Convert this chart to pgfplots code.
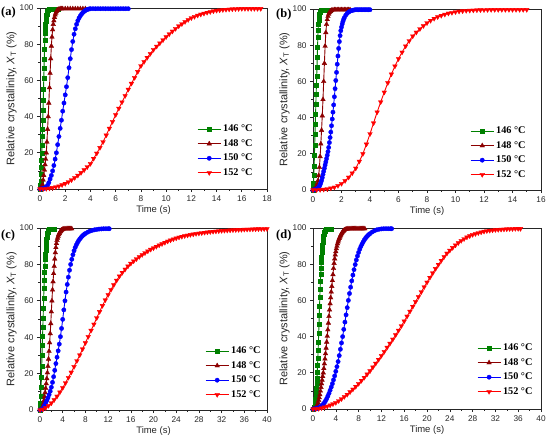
\documentclass[border=0pt]{standalone}
\usepackage{fontspec}
\setmainfont{Liberation Sans}
\newfontfamily\serifb{Liberation Serif}
\usepackage{pgfplots}
\pgfplotsset{compat=1.18}
\definecolor{cgreen}{RGB}{0,128,0}
\definecolor{cdred}{RGB}{140,0,0}
\definecolor{cblue}{RGB}{0,0,255}
\definecolor{cred}{RGB}{255,0,0}
\pgfplotsset{
  panel/.style={
    scale only axis, anchor=south west,
    xmin=0, ymin=0, ymax=100,
    ytick={0,20,...,100},
    minor x tick num=1, minor y tick num=1,
    tick align=outside, xtick pos=lower, ytick pos=left,
    major tick length=3bp, minor tick length=1.7bp,
    axis line style={line width=0.8bp, black!85},
    every tick/.style={line width=0.6bp, black!85},
    tick label style={font=\fontsize{8.3}{9}\selectfont, black!85},
    /pgf/number format/assume math mode=true,
    xlabel={Time (s)},
    ylabel={Relative crystallinity, {\itshape X}\textsubscript{T} (\%)},
    xlabel style={font=\fontsize{9.5}{11}\selectfont, black!85, at={(axis description cs:0.5,-0.115)}, anchor=center},
    ylabel style={font=\fontsize{11}{12}\selectfont, black!85, at={(axis description cs:-0.125,0.5)}, anchor=center, rotate=0},
    clip=false,
    every axis plot/.append style={line width=0.9bp},
    legend style={draw=none, fill=none, anchor=north west, inner sep=0pt,
      font=\serifb\bfseries\fontsize{10.3}{12}\selectfont,
      nodes={inner sep=0pt, text height=7bp, text depth=2bp},
      row sep=5.5bp, column sep=2bp},
    legend cell align=left,
    legend image code/.code={\draw[mark repeat=2,mark phase=2,#1] plot coordinates {(0bp,0bp) (11.5bp,0bp) (23bp,0bp)};},
  },
  sgreen/.style={color=cgreen, mark=square*, mark size=2.0bp, mark options={line width=0.3bp}},
  sdred/.style={color=cdred, mark=triangle*, mark size=2.7bp, mark options={line width=0.3bp}},
  sblue/.style={color=cblue, mark=*, mark size=2.2bp, mark options={line width=0.3bp}},
  sred/.style={color=cred, mark=triangle*, mark size=2.7bp, mark options={line width=0.3bp, rotate=180}},
}
\begin{document}
\begin{tikzpicture}
\path[use as bounding box] (0,0) rectangle (550bp,444bp);
% ---------------- (a) ----------------
\begin{axis}[panel, at={(40bp,255bp)}, width=227bp, height=181bp,
  xmax=18, xtick={0,2,...,18}, legend style={at={(0.692,0.356)}}]
\addplot[sgreen] table {
0 0
0.02 0.5
0.04 2
0.06 4.5
0.08 8
0.10 12
0.12 16
0.14 20
0.16 24.5
0.18 29
0.20 33
0.22 38
0.24 43.5
0.26 49
0.28 55
0.30 61
0.32 66.5
0.34 72
0.36 77.5
0.38 82
0.40 86
0.42 88.5
0.44 91
0.46 92.8
0.48 94
0.50 95
0.52 95.9
0.54 96.7
0.56 97.3
0.58 97.8
0.60 98.2
0.65 98.9
0.70 99.3
0.80 99.6
0.90 99.6
1.0 99.6
1.1 99.6
1.2 99.6
1.3 99.6
1.4 99.6
};
\addplot[sdred] table {
0 0
0.05 0.1
0.1 0.4
0.15 1
0.2 2.5
0.25 5
0.3 7.5
0.35 10.5
0.4 13.5
0.45 16.5
0.5 20
0.55 26
0.6 33
0.65 40
0.7 47.5
0.75 56
0.8 64
0.85 72
0.9 79
0.95 84
1.0 88
1.05 91
1.1 93
1.15 94.8
1.2 96.2
1.25 97.2
1.3 98
1.35 98.6
1.4 99
1.5 99.4
1.6 99.6
1.7 99.6
1.8 99.6
2.0 99.6
2.2 99.6
2.4 99.6
2.6 99.6
2.8 99.6
3.0 99.6
3.2 99.6
3.4 99.6
3.6 99.6
};
\addplot[sblue] table {
0 0
0.1 0
0.2 0.1
0.3 0.3
0.4 0.6
0.5 1.2
0.6 2
0.7 3.5
0.8 5.5
0.9 7.5
1.0 10
1.1 13
1.2 16.5
1.3 20
1.4 24.5
1.5 29
1.6 33.5
1.7 38
1.8 43
1.9 47.5
2.0 52
2.1 56.5
2.2 61.5
2.3 67
2.4 72
2.5 77
2.6 81.5
2.7 85.5
2.8 88.5
2.9 91
3.0 93
3.1 94.5
3.2 95.7
3.3 96.7
3.4 97.5
3.5 98.1
3.6 98.6
3.7 99
3.8 99.3
3.9 99.5
4.0 99.6
4.2 99.6
4.4 99.6
4.6 99.6
4.8 99.6
5.0 99.6
5.2 99.6
5.4 99.6
5.6 99.6
5.8 99.6
6.0 99.6
6.2 99.6
6.4 99.6
6.6 99.6
6.8 99.6
7.0 99.6
};
\addplot[sred] table {
0 0
0.25 0.05
0.5 0.2
0.75 0.4
1 0.7
1.25 1.1
1.5 1.6
1.75 2.3
2 3
2.25 3.9
2.5 5
2.75 6.2
3 7.5
3.25 9
3.5 10.5
3.75 12.2
4 14
4.25 16.8
4.5 19.7
4.75 22.8
5 26
5.25 29.7
5.5 33.5
5.75 37.2
6 41
6.25 44.5
6.5 48
6.75 51.5
7 55
7.25 58.3
7.5 61.5
7.75 64.8
8 68
8.25 70.3
8.5 72.6
8.75 74.8
9 77
9.25 78.8
9.5 80.6
9.75 82.3
10 84
10.25 85.6
10.5 87.1
10.75 88.6
11 90
11.25 91.2
11.5 92.4
11.75 93.5
12 94.5
12.25 95.2
12.5 95.9
12.75 96.5
13 97
13.25 97.5
13.5 97.9
13.75 98.3
14 98.6
14.25 98.8
14.5 99
14.75 99.15
15 99.3
15.25 99.4
15.5 99.5
15.75 99.55
16 99.6
16.25 99.6
16.5 99.6
16.75 99.6
17 99.6
17.25 99.6
17.5 99.6
};
\legend{146 °C, 148 °C, 150 °C, 152 °C}
\end{axis}
% ---------------- (b) ----------------
\begin{axis}[panel, at={(313bp,254bp)}, width=228bp, height=181bp,
  xmax=16, xtick={0,2,...,16}, legend style={at={(0.689,0.351)}}]
\addplot[sgreen] table {
0 0
0.02 1
0.04 4
0.06 8
0.08 13
0.10 19
0.12 25
0.14 31
0.16 36.5
0.18 42
0.20 47.5
0.22 53
0.24 58
0.26 63
0.28 68
0.30 73.5
0.32 79
0.34 84.5
0.36 88.5
0.38 91.5
0.40 93.8
0.42 95.3
0.44 96.5
0.46 97.4
0.48 98
0.50 98.5
0.55 99.1
0.60 99.4
0.70 99.6
0.80 99.6
0.90 99.6
1.0 99.6
1.1 99.6
1.2 99.6
};
\addplot[sdred] table {
0 0
0.05 0.1
0.1 0.3
0.15 0.7
0.2 1.3
0.25 2.3
0.3 3.6
0.35 5.2
0.4 8
0.45 12.5
0.5 18.5
0.55 25.5
0.6 33
0.65 41
0.7 50
0.75 60
0.8 70
0.85 79.5
0.9 87
0.95 91.5
1.0 94.2
1.05 96
1.1 97.2
1.15 98
1.2 98.6
1.25 99
1.3 99.3
1.4 99.5
1.5 99.6
1.6 99.6
1.7 99.6
1.8 99.6
1.9 99.6
2.0 99.6
2.1 99.6
2.2 99.6
2.3 99.6
2.4 99.6
2.5 99.6
2.6 99.6
};
\addplot[sblue] table {
0 0
0.05 0
0.1 0.1
0.15 0.2
0.2 0.3
0.25 0.5
0.3 0.8
0.35 1.1
0.4 1.6
0.45 2.2
0.5 3
0.55 4
0.6 5.2
0.65 6.8
0.7 8.6
0.75 10.3
0.8 12
0.85 13.8
0.9 15.5
0.95 17.3
1.0 19.2
1.05 21.2
1.1 23.5
1.15 26.2
1.2 29
1.25 32
1.3 35.5
1.35 39.2
1.4 43
1.45 47
1.5 51.5
1.55 56
1.6 60.5
1.65 65
1.7 69.5
1.75 74
1.8 78.2
1.85 82
1.9 85.3
1.95 88
2.0 90
2.05 91.7
2.1 93.1
2.15 94.3
2.2 95.2
2.3 96.6
2.4 97.6
2.5 98.3
2.6 98.8
2.7 99.1
2.8 99.3
2.9 99.5
3.0 99.6
3.1 99.6
3.2 99.6
3.3 99.6
3.4 99.6
3.5 99.6
3.6 99.6
3.7 99.6
3.8 99.6
3.9 99.6
4.0 99.6
};
\addplot[sred] table {
0 0
0.25 0.05
0.5 0.15
0.75 0.35
1 0.6
1.25 1
1.5 1.5
1.75 2.4
2 3.5
2.25 5.1
2.5 7
2.75 9.3
3 12
3.25 15.8
3.5 20
3.75 25.3
4 31
4.25 37
4.5 43
4.75 48.6
5 54
5.25 59.2
5.5 64
5.75 68.4
6 72.5
6.25 76.1
6.5 79.5
6.75 82.4
7 85
7.25 87.1
7.5 89
7.75 90.7
8 92.3
8.25 93.6
8.5 94.7
8.75 95.6
9 96.4
9.25 97
9.5 97.6
9.75 98
10 98.4
10.25 98.7
10.5 98.9
10.75 99.1
11 99.2
11.25 99.3
11.5 99.4
11.75 99.45
12 99.5
12.25 99.55
12.5 99.6
12.75 99.6
13 99.6
13.25 99.6
13.5 99.6
13.75 99.6
14 99.6
14.25 99.6
14.5 99.6
14.75 99.6
15 99.6
};
\legend{146 °C, 148 °C, 150 °C, 152 °C}
\end{axis}
% ---------------- (c) ----------------
\begin{axis}[panel, at={(40bp,34bp)}, width=227bp, height=182bp,
  xmax=40, xtick={0,4,...,40}, legend style={at={(0.727,0.349)}}]
\addplot[sgreen] table {
0 0
0.05 1
0.1 3.5
0.15 7.5
0.2 12.5
0.25 18
0.3 24
0.35 30
0.4 35.5
0.45 40.5
0.5 45.5
0.55 50.5
0.6 56
0.65 61.5
0.7 67
0.75 71.5
0.8 75.5
0.85 79.3
0.9 82.7
0.95 85.5
1.0 88
1.05 90.2
1.1 92.1
1.15 93.7
1.2 95
1.25 96
1.3 96.9
1.35 97.6
1.4 98.1
1.5 98.8
1.6 99.2
1.7 99.5
1.8 99.6
1.9 99.6
2.0 99.6
2.1 99.6
2.2 99.6
2.3 99.6
2.4 99.6
2.5 99.6
};
\addplot[sdred] table {
0 0
0.1 0.05
0.2 0.2
0.3 0.6
0.4 1.2
0.5 2.2
0.6 3.5
0.7 5.2
0.8 7.3
0.9 9.6
1.0 12
1.1 14.5
1.2 17.3
1.3 20.5
1.4 24
1.5 28
1.6 32.3
1.7 37
1.8 42
1.9 47.5
2.0 54
2.1 60
2.2 66
2.3 70.5
2.4 75
2.5 79
2.6 83
2.7 86.5
2.8 89.3
2.9 91.5
3.0 93.2
3.1 94.5
3.2 95.5
3.3 96.4
3.4 97.1
3.5 97.7
3.6 98.2
3.7 98.6
3.8 98.9
3.9 99.1
4.0 99.3
4.2 99.5
4.4 99.6
4.6 99.6
4.8 99.6
5.0 99.6
5.2 99.6
5.4 99.6
5.6 99.6
};
\addplot[sblue] table {
0 0
0.2 0.1
0.4 0.5
0.6 1.3
0.8 2.5
1.0 3.8
1.2 5.2
1.4 6.7
1.6 8.4
1.8 10.3
2.0 12.5
2.2 15.2
2.4 18.3
2.6 21.8
2.8 25.5
3.0 29
3.2 32.5
3.4 36.2
3.6 40.3
3.8 44.8
4.0 49.8
4.2 55
4.4 60
4.6 64.8
4.8 69
5.0 73
5.2 76.8
5.4 80
5.6 82.8
5.8 85.3
6.0 87.5
6.2 89.3
6.4 90.7
6.6 91.9
6.8 93
7.0 93.9
7.2 94.7
7.4 95.4
7.6 96
7.8 96.5
8.0 97
8.4 97.7
8.8 98.3
9.2 98.7
9.6 99
10.0 99.2
10.4 99.4
10.8 99.5
11.2 99.6
11.6 99.6
12.0 99.6
12.2 99.6
};
\addplot[sred] table {
0 0
0.5 0.4
1 1.2
1.5 2.4
2 3.8
2.5 5.6
3 7.5
3.5 9.8
4 12.2
4.5 14.9
5 17.8
5.5 20.7
6 23.8
6.5 27
7 30.2
7.5 33.5
8 36.9
8.5 40.3
9 43.7
9.5 47.1
10 50.6
10.5 54
11 57.3
11.5 60.4
12 63.3
12.5 66.1
13 68.7
13.5 71.2
14 73.5
14.5 75.5
15 77.3
15.5 79
16 80.5
16.5 81.8
17 83
17.5 84.2
18 85.3
18.5 86.3
19 87.3
19.5 88.2
20 89
20.5 89.8
21 90.6
21.5 91.3
22 92
22.5 92.7
23 93.3
23.5 93.9
24 94.4
24.5 94.9
25 95.3
25.5 95.7
26 96
26.5 96.3
27 96.6
27.5 96.9
28 97.1
28.5 97.3
29 97.5
29.5 97.7
30 97.9
30.5 98.05
31 98.2
31.5 98.35
32 98.5
32.5 98.6
33 98.7
33.5 98.8
34 98.9
34.5 99
35 99.05
35.5 99.1
36 99.2
36.5 99.25
37 99.3
37.5 99.35
38 99.4
38.5 99.45
39 99.5
39.5 99.5
40 99.55
};
\legend{146 °C, 148 °C, 150 °C, 152 °C}
\end{axis}
% ---------------- (d) ----------------
\begin{axis}[panel, at={(313bp,35bp)}, width=228bp, height=181bp,
  xmax=40, xtick={0,4,...,40}, legend style={at={(0.719,0.362)}}]
\addplot[sgreen] table {
0 0
0.05 0
0.1 0.1
0.15 0.3
0.2 0.6
0.25 1.1
0.3 1.8
0.35 2.8
0.4 4
0.45 5.5
0.5 7.2
0.55 9.2
0.6 11.5
0.65 14.2
0.7 17.2
0.75 20.5
0.8 24
0.85 28
0.9 32.3
0.95 37
1.0 42
1.05 47
1.1 52
1.15 57
1.2 61.8
1.25 66.3
1.3 70.5
1.35 74.3
1.4 77.8
1.45 81
1.5 83.9
1.55 86.5
1.6 88.7
1.65 90.6
1.7 92.2
1.75 93.6
1.8 94.7
1.85 95.6
1.9 96.4
2.0 97.6
2.1 98.4
2.2 98.9
2.3 99.2
2.4 99.4
2.5 99.5
2.6 99.6
2.7 99.6
2.8 99.6
2.9 99.6
3.0 99.6
3.1 99.6
3.2 99.6
};
\addplot[sdred] table {
0 0
0.1 0
0.2 0.1
0.3 0.2
0.4 0.4
0.5 0.7
0.6 1.1
0.7 1.7
0.8 2.5
0.9 3.5
1.0 4.8
1.1 6.3
1.2 8
1.3 10
1.4 12
1.5 14
1.6 16
1.7 18
1.8 20
1.9 22.4
2.0 25
2.1 27.7
2.2 30.6
2.3 33.7
2.4 37
2.5 40.3
2.6 43.8
2.7 47.5
2.8 51.2
2.9 54.8
3.0 58.2
3.1 61.5
3.2 64.7
3.3 67.8
3.4 71
3.5 74.3
3.6 77.7
3.7 80.5
3.8 83
3.9 85.2
4.0 87
4.1 88.6
4.2 90
4.3 91.3
4.4 92.4
4.5 93.4
4.6 94.2
4.7 95
4.8 95.7
4.9 96.3
5.0 96.9
5.1 97.4
5.2 97.9
5.3 98.3
5.4 98.6
5.5 98.9
5.7 99.2
5.9 99.4
6.1 99.5
6.3 99.6
6.5 99.6
6.7 99.6
6.9 99.6
7.1 99.6
7.3 99.6
7.5 99.6
7.7 99.6
7.9 99.6
8.1 99.6
8.3 99.6
8.5 99.6
8.7 99.6
8.9 99.6
9.1 99.6
};
\addplot[sblue] table {
0 0
0.2 0
0.4 0.1
0.6 0.2
0.8 0.4
1.0 0.7
1.2 1.0
1.4 1.5
1.6 2
1.8 2.7
2.0 3.5
2.2 4.5
2.4 5.7
2.6 7.1
2.8 8.6
3.0 10.3
3.2 12.1
3.4 14
3.6 16.1
3.8 18.3
4.0 20.8
4.2 23.4
4.4 26.2
4.6 29.5
4.8 33
5.0 36.5
5.2 40
5.4 44
5.6 48
5.8 52
6.0 56
6.2 60
6.4 63.8
6.6 67.3
6.8 70.8
7.0 74
7.2 77
7.4 79.8
7.6 82.3
7.8 84.5
8.0 86.5
8.2 88.3
8.4 89.8
8.6 91.1
8.8 92.3
9.0 93.4
9.2 94.3
9.4 95.1
9.6 95.8
9.8 96.4
10.0 96.9
10.4 97.8
10.8 98.5
11.2 99
11.6 99.3
12.0 99.5
12.4 99.6
12.8 99.6
13.2 99.6
13.6 99.6
13.8 99.6
};
\addplot[sred] table {
0 0
0.5 0.05
1 0.2
1.5 0.55
2 1
2.5 1.5
3 2.1
3.5 2.8
4 3.5
4.5 4.5
5 5.6
5.5 6.8
6 8
6.5 9.4
7 10.9
7.5 12.4
8 14
8.5 15.7
9 17.4
9.5 19.2
10 21
10.5 23.1
11 25.2
11.5 27.3
12 29.5
12.5 31.7
13 34
13.5 36.2
14 38.5
14.5 40.9
15 43.4
15.5 45.9
16 48.5
16.5 51.2
17 53.9
17.5 56.6
18 59.3
18.5 62
19 64.7
19.5 67.4
20 70
20.5 72.6
21 75.1
21.5 77.5
22 79.8
22.5 82
23 84.1
23.5 86
24 87.6
24.5 89.1
25 90.5
25.5 91.8
26 93
26.5 94
27 94.9
27.5 95.6
28 96.3
28.5 96.8
29 97.3
29.5 97.7
30 98.1
30.5 98.4
31 98.6
31.5 98.8
32 99
32.5 99.1
33 99.2
33.5 99.3
34 99.4
34.5 99.5
35 99.5
35.5 99.6
36 99.6
36.4 99.6
};
\legend{146 °C, 148 °C, 150 °C, 152 °C}
\end{axis}
% panel labels
\node[font=\serifb\bfseries\fontsize{12.5}{14}\selectfont, anchor=west, inner sep=0pt] at (1bp,431bp) {(a)};
\node[font=\serifb\bfseries\fontsize{12.5}{14}\selectfont, anchor=west, inner sep=0pt] at (276bp,429bp) {(b)};
\node[font=\serifb\bfseries\fontsize{12.5}{14}\selectfont, anchor=west, inner sep=0pt] at (1bp,208bp) {(c)};
\node[font=\serifb\bfseries\fontsize{12.5}{14}\selectfont, anchor=west, inner sep=0pt] at (276bp,208bp) {(d)};
\end{tikzpicture}
\end{document}
